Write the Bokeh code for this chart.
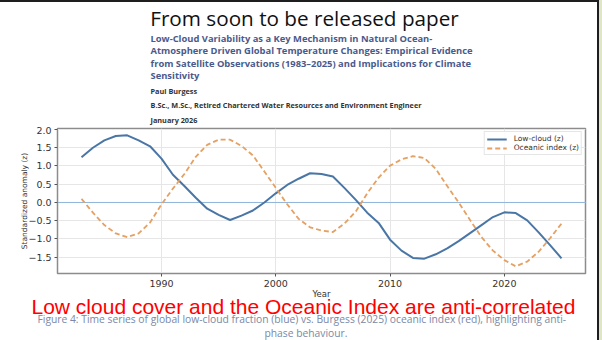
from bokeh.plotting import figure
from bokeh.layouts import column
from bokeh.models import Range1d, Span, FixedTicker, CustomJSTickFormatter, Title
from bokeh.core.properties import value
from bokeh.embed import file_html
from bokeh.resources import INLINE

# ---- data ----
years = list(range(1983, 2026))
low_cloud = [1.24, 1.50, 1.70, 1.82, 1.84, 1.70, 1.54, 1.20, 0.76, 0.45,
             0.13, -0.17, -0.34, -0.48, -0.36, -0.22, 0.00, 0.25, 0.48, 0.65,
             0.80, 0.78, 0.71, 0.40, 0.07, -0.28, -0.56, -1.02, -1.32, -1.52,
             -1.54, -1.42, -1.26, -1.06, -0.84, -0.62, -0.40, -0.27, -0.29, -0.49,
             -0.82, -1.17, -1.53]
oceanic = [0.10, -0.28, -0.62, -0.85, -0.95, -0.85, -0.55, -0.05, 0.38, 0.78,
           1.25, 1.58, 1.72, 1.72, 1.55, 1.29, 0.85, 0.40, -0.05, -0.45,
           -0.68, -0.77, -0.81, -0.58, -0.25, 0.25, 0.68, 1.01, 1.18, 1.27,
           1.22, 0.92, 0.45, 0.00, -0.48, -0.95, -1.32, -1.58, -1.75, -1.62,
           -1.35, -0.98, -0.58]
x_ticks = [1990, 2000, 2010, 2020]
y_ticks = [-1.5, -1.0, -0.5, 0.0, 0.5, 1.0, 1.5, 2.0]
series_names = ["Low-cloud (z)", "Oceanic index (z)"]

title_text = "From soon to be released paper"
subtitle_lines = [
    "Low-Cloud Variability as a Key Mechanism in Natural Ocean-",
    "Atmosphere Driven Global Temperature Changes: Empirical Evidence",
    "from Satellite Observations (1983\u20132025) and Implications for Climate",
    "Sensitivity",
]
author_lines = [
    "Paul Burgess",
    "B.Sc., M.Sc., Retired Chartered Water Resources and Environment Engineer",
    "January 2026",
]
red_text = "Low cloud cover and the Oceanic Index are anti-correlated"
caption_lines = [
    "Figure 4: Time series of global low-cloud fraction (blue) vs. Burgess (2025) oceanic index (red), highlighting anti-",
    "phase behaviour.",
]

# ---- layout (page pixels) ----
W = 597
TOP = 2
HEAD_B = 126
PAGE_B = 340
FL, FR, FT, FB = 57, 585, 128, 273
X0, X1 = 1980.9, 2027.1
Y0, Y1 = -1.947, 2.027

# header: its frame is aligned with the chart frame (FL..FR), so data x = page x
head = figure(width=W, height=HEAD_B - TOP, x_range=Range1d(FL, FR), y_range=Range1d(HEAD_B, TOP),
              x_axis_type=None, y_axis_type=None, output_backend="svg",
              toolbar_location=None, min_border=0)
head.outline_line_color = None
head.grid.visible = False
head.border_fill_color = "white"


def put(f, px, py, text, size, color, font="Open Sans", style="normal", align="left"):
    f.text(x=[px], y=[py], text=[text], text_font=value(font), text_font_size=size,
           text_font_style=style, text_color=color, text_align=align,
           text_baseline="middle")


put(head, 304, 17, title_text, "20.7px", "#111111", align="center")
for i, line in enumerate(subtitle_lines):
    put(head, 150, 38 + 12.4 * i, line, "9.4px", "#4a5a8c", style="bold")
for i, line in enumerate(author_lines):
    put(head, 150, 90 + 14.5 * i, line, "7.3px", "#333333", style="bold")

# chart
p = figure(width=W, height=PAGE_B - HEAD_B, x_range=Range1d(X0, X1), y_range=Range1d(Y0, Y1),
           output_backend="svg", toolbar_location=None,
           min_border_left=FL, min_border_right=W - FR,
           min_border_top=FT - HEAD_B, min_border_bottom=PAGE_B - FB)
p.background_fill_color = "white"
p.border_fill_color = "white"
p.outline_line_color = "#8c8c8c"
p.outline_line_width = 1.5

p.add_layout(Span(location=0, dimension="width", line_color="#8fb5da", line_width=1,
                  level="underlay"))
p.line(years, low_cloud, line_color="#4a76a6", line_width=2, legend_label=series_names[0])
p.line(years, oceanic, line_color="#e5a062", line_width=1.8, line_dash="5 3",
       legend_label=series_names[1])

for ax in (p.xaxis, p.yaxis):
    ax.axis_line_color = None
    ax.major_tick_line_color = "#555555"
    ax.major_tick_in = 0
    ax.major_tick_out = 3
    ax.minor_tick_line_color = None
    ax.major_label_text_font = "DejaVu Sans"
    ax.major_label_text_font_size = "9.5px"
    ax.major_label_text_color = "#333333"
    ax.axis_label_text_font = "DejaVu Sans"
    ax.axis_label_text_font_style = "normal"
    ax.axis_label_text_color = "#333333"

p.xaxis.ticker = FixedTicker(ticks=x_ticks)
p.yaxis.ticker = FixedTicker(ticks=y_ticks)
p.yaxis.formatter = CustomJSTickFormatter(code="return tick.toFixed(1).replace('-', '\u2212');")
p.xaxis.major_label_standoff = 3
p.yaxis.major_label_standoff = 3
p.xaxis.axis_label = "Year"
p.xaxis.axis_label_text_font_size = "8.5px"
p.xaxis.axis_label_standoff = -1
p.yaxis.axis_label = "Standardized anomaly (z)"
p.yaxis.axis_label_text_font_size = "7.5px"
p.yaxis.axis_label_standoff = -4

p.xgrid.ticker = FixedTicker(ticks=x_ticks)
p.ygrid.ticker = FixedTicker(ticks=y_ticks)
p.grid.grid_line_color = "#e6e6e6"
p.grid.grid_line_width = 1

lg = p.legend[0]
lg.location = "top_right"
lg.margin = 3
lg.padding = 2
lg.spacing = 0
lg.label_text_font = "DejaVu Sans"
lg.label_text_font_size = "7.5px"
lg.label_text_color = "#333333"
lg.label_height = 8
lg.glyph_height = 8
lg.glyph_width = 20
lg.label_standoff = 7
lg.border_line_color = "#cccccc"
lg.background_fill_alpha = 0.85

# footer texts as titles below the chart (not clipped to the frame)
p.add_layout(Title(text=red_text, text_font="Liberation Sans", text_font_size="21px",
                   text_font_style="normal", text_color="#ff0000", align="left",
                   offset=31 - FL, standoff=-15, vertical_align="middle"), "below")
p.add_layout(Title(text=caption_lines[0], text_font="Open Sans", text_font_size="10.3px",
                   text_font_style="normal", text_color="#7b88a6", align="left",
                   offset=37 - FL, standoff=-2, vertical_align="middle"), "below")
p.add_layout(Title(text=caption_lines[1], text_font="Open Sans", text_font_size="10.3px",
                   text_font_style="normal", text_color="#7b88a6", align="left",
                   offset=264 - FL, standoff=-2, vertical_align="middle"), "below")

page = column(head, p, spacing=0,
              styles={"border-top": "2px solid #1e1e1e", "border-right": "2px solid #1e1e1e",
                      "box-shadow": "3px 0 0 #dfe6c6"})

open("out.html", "w").write(file_html(page, INLINE))
